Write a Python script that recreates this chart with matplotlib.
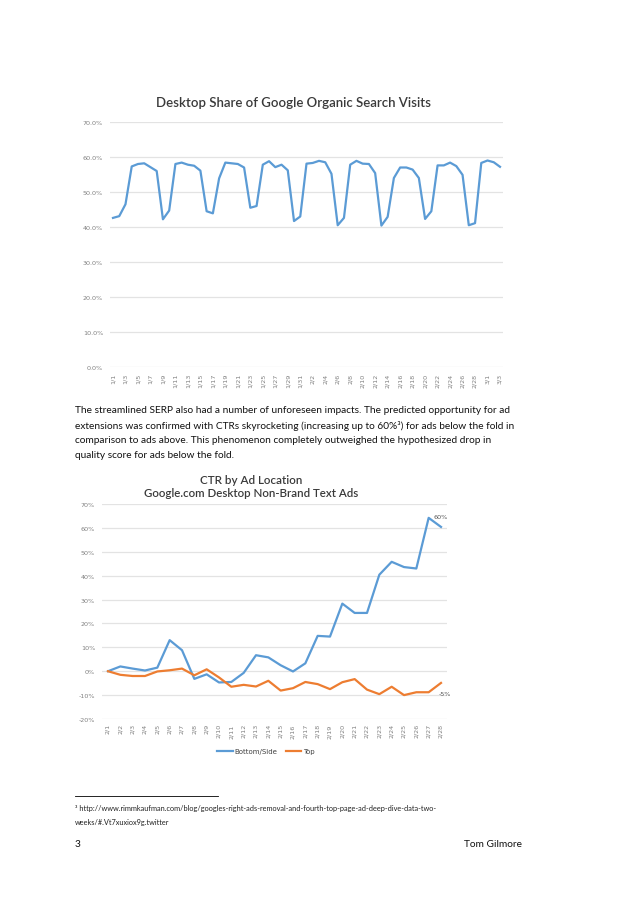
import matplotlib
matplotlib.use("Agg")
import matplotlib.pyplot as plt
from matplotlib.lines import Line2D
import pandas as pd

W, H = 638, 903

# --- chart 1: desktop share of organic visits, daily 1/1 - 3/3 (2016)
desk_days = [f"{d.month}/{d.day}" for d in pd.date_range("2016-01-01", "2016-03-03")]
desk_share = [42.6, 43.1, 46.5, 57.3, 58.0, 58.2, 57.1, 56.0, 42.2, 44.7,
              58.0, 58.4, 57.8, 57.5, 56.1, 44.5, 43.9, 53.9, 58.4, 58.2,
              58.0, 57.0, 45.5, 46.0, 57.8, 58.8, 57.1, 57.8, 56.2, 41.7,
              43.0, 58.1, 58.3, 58.9, 58.5, 55.2, 40.5, 42.6, 57.8, 58.9,
              58.1, 58.0, 55.4, 40.4, 42.9, 54.0, 57.0, 57.0, 56.4, 54.0,
              42.3, 44.5, 57.6, 57.6, 58.4, 57.4, 54.9, 40.5, 41.1, 58.3,
              59.0, 58.5, 57.2]
desk_yticks = [0, 10, 20, 30, 40, 50, 60, 70]

# --- chart 2: CTR change by ad location, 2/1 - 2/28
ctr_days = [f"2/{d}" for d in range(1, 29)]
bottom_side = [0, 2.0, 1.1, 0.3, 1.5, 13.0, 8.8, -3.2, -1.3, -4.7,
               -4.5, -0.7, 6.7, 5.8, 2.5, -0.1, 3.3, 14.8, 14.5, 28.3,
               24.4, 24.4, 40.4, 45.8, 43.6, 43.0, 64.2, 60.4]
top = [0, -1.5, -2.0, -2.0, -0.1, 0.4, 1.1, -1.7, 0.8, -2.6,
       -6.5, -5.7, -6.4, -4.0, -8.1, -7.1, -4.5, -5.4, -7.5, -4.6,
       -3.3, -7.7, -9.6, -6.5, -10.0, -8.8, -8.8, -4.9]
ctr_yticks = [-20, -10, 0, 10, 20, 30, 40, 50, 60, 70]

para = [
    "The streamlined SERP also had a number of unforeseen impacts. The predicted opportunity for ad",
    "extensions was confirmed with CTRs skyrocketing (increasing up to 60%\u00b3) for ads below the fold in",
    "comparison to ads above. This phenomenon completely outweighed the hypothesized drop in",
    "quality score for ads below the fold.",
]
footnote = [
    "\u00b3 http://www.rimmkaufman.com/blog/googles-right-ads-removal-and-fourth-top-page-ad-deep-dive-data-two-",
    "weeks/#.Vt7xuxiox9g.twitter",
]

BLUE = "#5b9bd5"
ORANGE = "#ed7d31"
GRID = "#e3e3e3"
TICK = "#808080"

fig = plt.figure(figsize=(W / 100, H / 100), dpi=100)
fig.patch.set_facecolor("white")
renderer = fig.canvas.get_renderer()


def fx(x):
    return x / W


def fy(y):
    return 1 - y / H


def fit_text(x, y, s, width, **kw):
    t = fig.text(fx(x), fy(y), s, **kw)
    bb = t.get_window_extent(renderer)
    t.set_fontsize(t.get_fontsize() * width / bb.width)
    return t


def add_ax(left, top_, right, bottom):
    return fig.add_axes([fx(left), fy(bottom), (right - left) / W, (bottom - top_) / H])


def style(ax):
    for s in ax.spines.values():
        s.set_visible(False)
    ax.tick_params(length=0, colors=TICK)
    ax.grid(axis="y", color=GRID, lw=0.9)
    ax.set_axisbelow(True)


# chart 1
ax1 = add_ax(110, 123, 503, 368)
k1 = (500 - 113) / (len(desk_share) - 1)
ax1.plot(range(len(desk_share)), desk_share, color=BLUE, lw=1.6)
ax1.set_xlim(-3 / k1, len(desk_share) - 1 + 3 / k1)
ax1.set_ylim(0, 70)
ax1.set_yticks(desk_yticks)
ax1.set_yticklabels([f"{v:.1f}%" for v in desk_yticks], fontsize=4.6)
ax1.set_xticks(range(0, len(desk_days), 2))
ax1.set_xticklabels(desk_days[::2], rotation=90, fontsize=4.6)
ax1.tick_params(axis="y", pad=5)
ax1.tick_params(axis="x", pad=4)
style(ax1)
fit_text(294, 103, "Desktop Share of Google Organic Search Visits", 275,
         ha="center", va="center", family="Lato", weight="semibold", color="#3a3a3a", fontsize=10)

# paragraph
for i, line in enumerate(para):
    t = fig.text(fx(75), fy(411 + 15 * i), line, ha="left", va="center",
                 family="Lato", color="#111111", fontsize=8)
    if i == 0:
        bb = t.get_window_extent(renderer)
        body_fs = 8 * (513 - 75) / bb.width
    t.set_fontsize(body_fs)

# chart 2
ax2 = add_ax(102, 505, 447, 720)
k2 = (441 - 108) / (len(ctr_days) - 1)
x2 = range(len(ctr_days))
ax2.plot(x2, bottom_side, color=BLUE, lw=1.6, label="Bottom/Side")
ax2.plot(x2, top, color=ORANGE, lw=1.6, label="Top")
ax2.set_xlim(-6 / k2, len(ctr_days) - 1 + 6 / k2)
ax2.set_ylim(-20, 70)
ax2.set_yticks(ctr_yticks)
ax2.set_yticklabels([f"{v}%" for v in ctr_yticks], fontsize=4.6)
ax2.set_xticks(list(x2))
ax2.set_xticklabels(ctr_days, rotation=90, fontsize=4.6)
ax2.tick_params(axis="y", pad=5)
ax2.tick_params(axis="x", pad=3)
style(ax2)
ax2.annotate("60%", (len(ctr_days) - 1, bottom_side[-1]), xytext=(0, 6), textcoords="offset points",
             ha="center", va="bottom", fontsize=4.6, color="#555555")
ax2.annotate("-5%", (len(ctr_days) - 1, top[-1]), xytext=(3, -6), textcoords="offset points",
             ha="center", va="top", fontsize=4.6, color="#555555")
fit_text(251, 481, "CTR by Ad Location", 102,
         ha="center", va="center", family="Lato", weight="semibold", color="#3a3a3a", fontsize=10)
fit_text(251, 494, "Google.com Desktop Non-Brand Text Ads", 215,
         ha="center", va="center", family="Lato", weight="semibold", color="#3a3a3a", fontsize=10)
handles = [Line2D([], [], color=BLUE, lw=1.6), Line2D([], [], color=ORANGE, lw=1.6)]
fig.legend(handles, ["Bottom/Side", "Top"], loc="center", bbox_to_anchor=(fx(266), fy(752)),
           ncol=2, frameon=False, fontsize=5, handlelength=2.2, columnspacing=1.2,
           handletextpad=0.3, labelcolor="#404040")

# footnote + footer
fig.add_artist(Line2D([fx(75), fx(218)], [fy(797), fy(797)], color="black", lw=0.6))
fit_text(75, 809, footnote[0], 437 - 75, ha="left", va="center", family="Lato", color="#222222", fontsize=6)
fig.text(fx(75), fy(823), footnote[1], ha="left", va="center", family="Lato", color="#222222",
         fontsize=fig.texts[-1].get_fontsize())
fig.text(fx(75), fy(845), "3", ha="left", va="center", family="Lato", color="#111111", fontsize=body_fs)
fig.text(fx(522), fy(845), "Tom Gilmore", ha="right", va="center", family="Lato", color="#111111", fontsize=body_fs)

fig.savefig("out.png", dpi=100, facecolor="white")
